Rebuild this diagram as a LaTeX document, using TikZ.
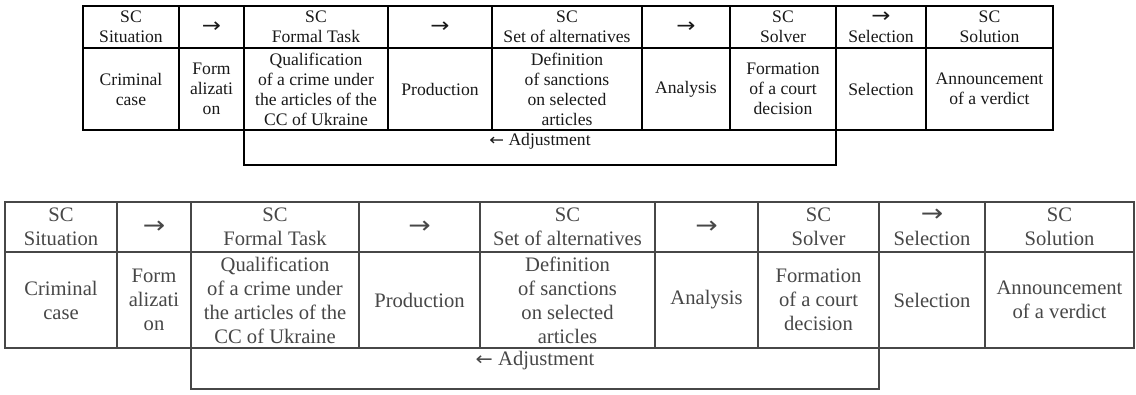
\documentclass[tikz,border=0pt]{standalone}
\usepackage{fontspec}
\setmainfont{Liberation Serif}
\newfontfamily\arrfont{DejaVu Sans}
\newcommand\ra{{\arrfont\scalebox{1.3}[1.15]{→}}}
\newcommand\la{{\arrfont\scalebox{1.0}[0.9]{←}}}
\tikzset{
 cT/.style={draw=black, line width=1.2pt, inner sep=0pt, outer sep=0pt, anchor=north west, align=center, font=\fontsize{17.6}{20}\selectfont, text=black!90},
 cB/.style={draw=black!72, line width=1.6pt, inner sep=0pt, outer sep=0pt, anchor=north west, align=center, font=\fontsize{20.6}{24}\selectfont, text=black!72},
 adjT/.style={anchor=north, inner sep=0pt, font=\fontsize{17.6}{20}\selectfont, text=black!90},
 adjB/.style={anchor=north, inner sep=0pt, font=\fontsize{20.6}{24}\selectfont, text=black!72},
}
\newcommand\mycell[7]{\node[#1, minimum width={(#5-#3)*1pt}, minimum height={(#6-#4)*1pt}] (#2) at (#3pt,-#4pt) {#7};}
\begin{document}
\begin{tikzpicture}
\fill[white] (0,0) rectangle (1136pt,-394pt);
\useasboundingbox (0,0) rectangle (1136pt,-394pt);
% ---------- top table ----------
\mycell{cT}{tA}{83}{6}{179}{48}{SC\\Situation}
\mycell{cT}{tB}{179}{6}{244}{48}{\ra}
\mycell{cT}{tC}{244}{6}{388}{48}{SC\\Formal Task}
\mycell{cT}{tD}{388}{6}{492}{48}{\ra}
\mycell{cT}{tE}{492}{6}{642}{48}{SC\\Set of alternatives}
\mycell{cT}{tF}{642}{6}{730}{48}{\ra}
\mycell{cT}{tG}{730}{6}{836}{48}{SC\\Solver}
\mycell{cT}{tH}{836}{6}{926}{48}{\ra\\Selection}
\mycell{cT}{tI}{926}{6}{1053}{48}{SC\\Solution}
\mycell{cT}{ta}{83}{48}{179}{130}{Criminal\\case}
\mycell{cT}{tb}{179}{48}{244}{130}{Form\\alizati\\on}
\mycell{cT}{tc}{244}{48}{388}{130}{Qualification\\of a crime under\\the articles of the\\CC of Ukraine}
\mycell{cT}{td}{388}{48}{492}{130}{Production}
\mycell{cT}{te}{492}{48}{642}{130}{Definition\\of sanctions\\on selected\\articles}
\mycell{cT}{tf}{642}{48}{730}{130}{Analysis}
\mycell{cT}{tg}{730}{48}{836}{130}{Formation\\of a court\\decision}
\mycell{cT}{th}{836}{48}{926}{130}{Selection}
\mycell{cT}{ti}{926}{48}{1053}{130}{Announcement\\of a verdict}
\mycell{cT}{tadj}{244}{130}{836}{165}{}
\node[adjT] (tadjtxt) at ([yshift=-3pt]tadj.north) {\la\ Adjustment};
% ---------- bottom table ----------
\mycell{cB}{bA}{5}{202}{117}{252}{SC\\Situation}
\mycell{cB}{bB}{117}{202}{191}{252}{\ra}
\mycell{cB}{bC}{191}{202}{359}{252}{SC\\Formal Task}
\mycell{cB}{bD}{359}{202}{480}{252}{\ra}
\mycell{cB}{bE}{480}{202}{655}{252}{SC\\Set of alternatives}
\mycell{cB}{bF}{655}{202}{758}{252}{\ra}
\mycell{cB}{bG}{758}{202}{879}{252}{SC\\Solver}
\mycell{cB}{bH}{879}{202}{985}{252}{\ra\\Selection}
\mycell{cB}{bI}{985}{202}{1134}{252}{SC\\Solution}
\mycell{cB}{ba}{5}{252}{117}{348}{Criminal\\case}
\mycell{cB}{bb}{117}{252}{191}{348}{Form\\alizati\\on}
\mycell{cB}{bc}{191}{252}{359}{348}{Qualification\\of a crime under\\the articles of the\\CC of Ukraine}
\mycell{cB}{bd}{359}{252}{480}{348}{Production}
\mycell{cB}{be}{480}{252}{655}{348}{Definition\\of sanctions\\on selected\\articles}
\mycell{cB}{bf}{655}{252}{758}{348}{Analysis}
\mycell{cB}{bg}{758}{252}{879}{348}{Formation\\of a court\\decision}
\mycell{cB}{bh}{879}{252}{985}{348}{Selection}
\mycell{cB}{bi}{985}{252}{1134}{348}{Announcement\\of a verdict}
\mycell{cB}{badj}{191}{348}{879}{389}{}
\node[adjB] (badjtxt) at ([yshift=-3pt]badj.north) {\la\ Adjustment};
\end{tikzpicture}
\end{document}
